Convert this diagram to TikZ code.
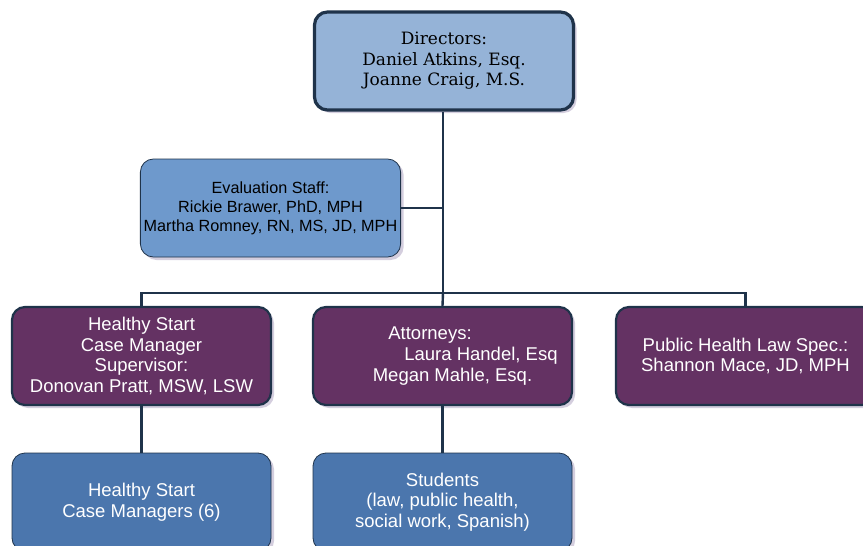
\documentclass[tikz,border=0pt]{standalone}
\usepackage{fontspec}
\setmainfont{Liberation Sans}
\newfontfamily\dirfont{DejaVu Serif}
\usetikzlibrary{shadows}
\definecolor{navy}{HTML}{1F334A}
\definecolor{dirblue}{HTML}{95B3D7}
\definecolor{evalblue}{HTML}{6E99CC}
\definecolor{plum}{HTML}{643263}
\definecolor{lowblue}{HTML}{4B76AD}
\definecolor{shade}{HTML}{C9C2D6}

\tikzset{
  box/.style={rounded corners=13pt,minimum width=259pt,minimum height=98pt,
    align=center,draw=navy,line width=1.5pt,font=\fontsize{18.5}{20.7}\selectfont,
    drop shadow={fill=shade,opacity=0.8,shadow xshift=3pt,shadow yshift=-3pt}},
  dirbox/.style={box,fill=dirblue,line width=3.2pt,minimum width=259pt,
    font=\dirfont\fontsize{17}{20.5}\selectfont},
  evalbox/.style={box,fill=evalblue,line width=0.8pt,font=\fontsize{16.2}{19}\selectfont},
  staffbox/.style={box,fill=plum,text=white,line width=2.2pt},
  helpbox/.style={box,fill=lowblue,text=white,line width=0.8pt},
  link/.style={draw=navy,line width=2.4pt}
}

\begin{document}
\begin{tikzpicture}[x=1pt,y=-1pt]
\useasboundingbox (0,0) rectangle (863,546);
\clip (0,0) rectangle (863,546);

\node[dirbox] (dir) at (444,61) {Directors:\\Daniel Atkins, Esq.\\Joanne Craig, M.S.};
\node[evalbox] (eval) at (270.5,208) {Evaluation Staff:\\Rickie Brawer, PhD, MPH\\Martha Romney, RN, MS, JD, MPH};

\node[staffbox] (sup) at (141.5,356) {Healthy Start\\Case Manager\\ Supervisor:\\Donovan Pratt, MSW, LSW};
\node[staffbox] (atty) at (442.5,356) {Attorneys:\hspace*{25pt}\\\hspace*{77pt}Laura Handel, Esq\\\hspace*{20pt}Megan Mahle, Esq.};
\node[staffbox] (phl) at (745.5,356) {Public Health Law Spec.:\\Shannon Mace, JD, MPH};

\node[helpbox] (cm) at (141.5,502) {Healthy Start\\Case Managers (6)};
\node[helpbox] (stud) at (442.5,502) {Students\\(law, public health,\\social work, Spanish)};

% connectors
\coordinate (bus) at (443,293);
\draw[link] (dir.south -| bus) -- (bus);
\draw[link] (eval.east) -- (eval.east -| bus);
\draw[link] (sup.north) -- (sup.north |- bus) -- (phl.north |- bus) -- (phl.north);
\draw[link] (bus) -- (atty.north);
\draw[link] (sup.south) -- (cm.north);
\draw[link] (atty.south) -- (stud.north);
\end{tikzpicture}
\end{document}
